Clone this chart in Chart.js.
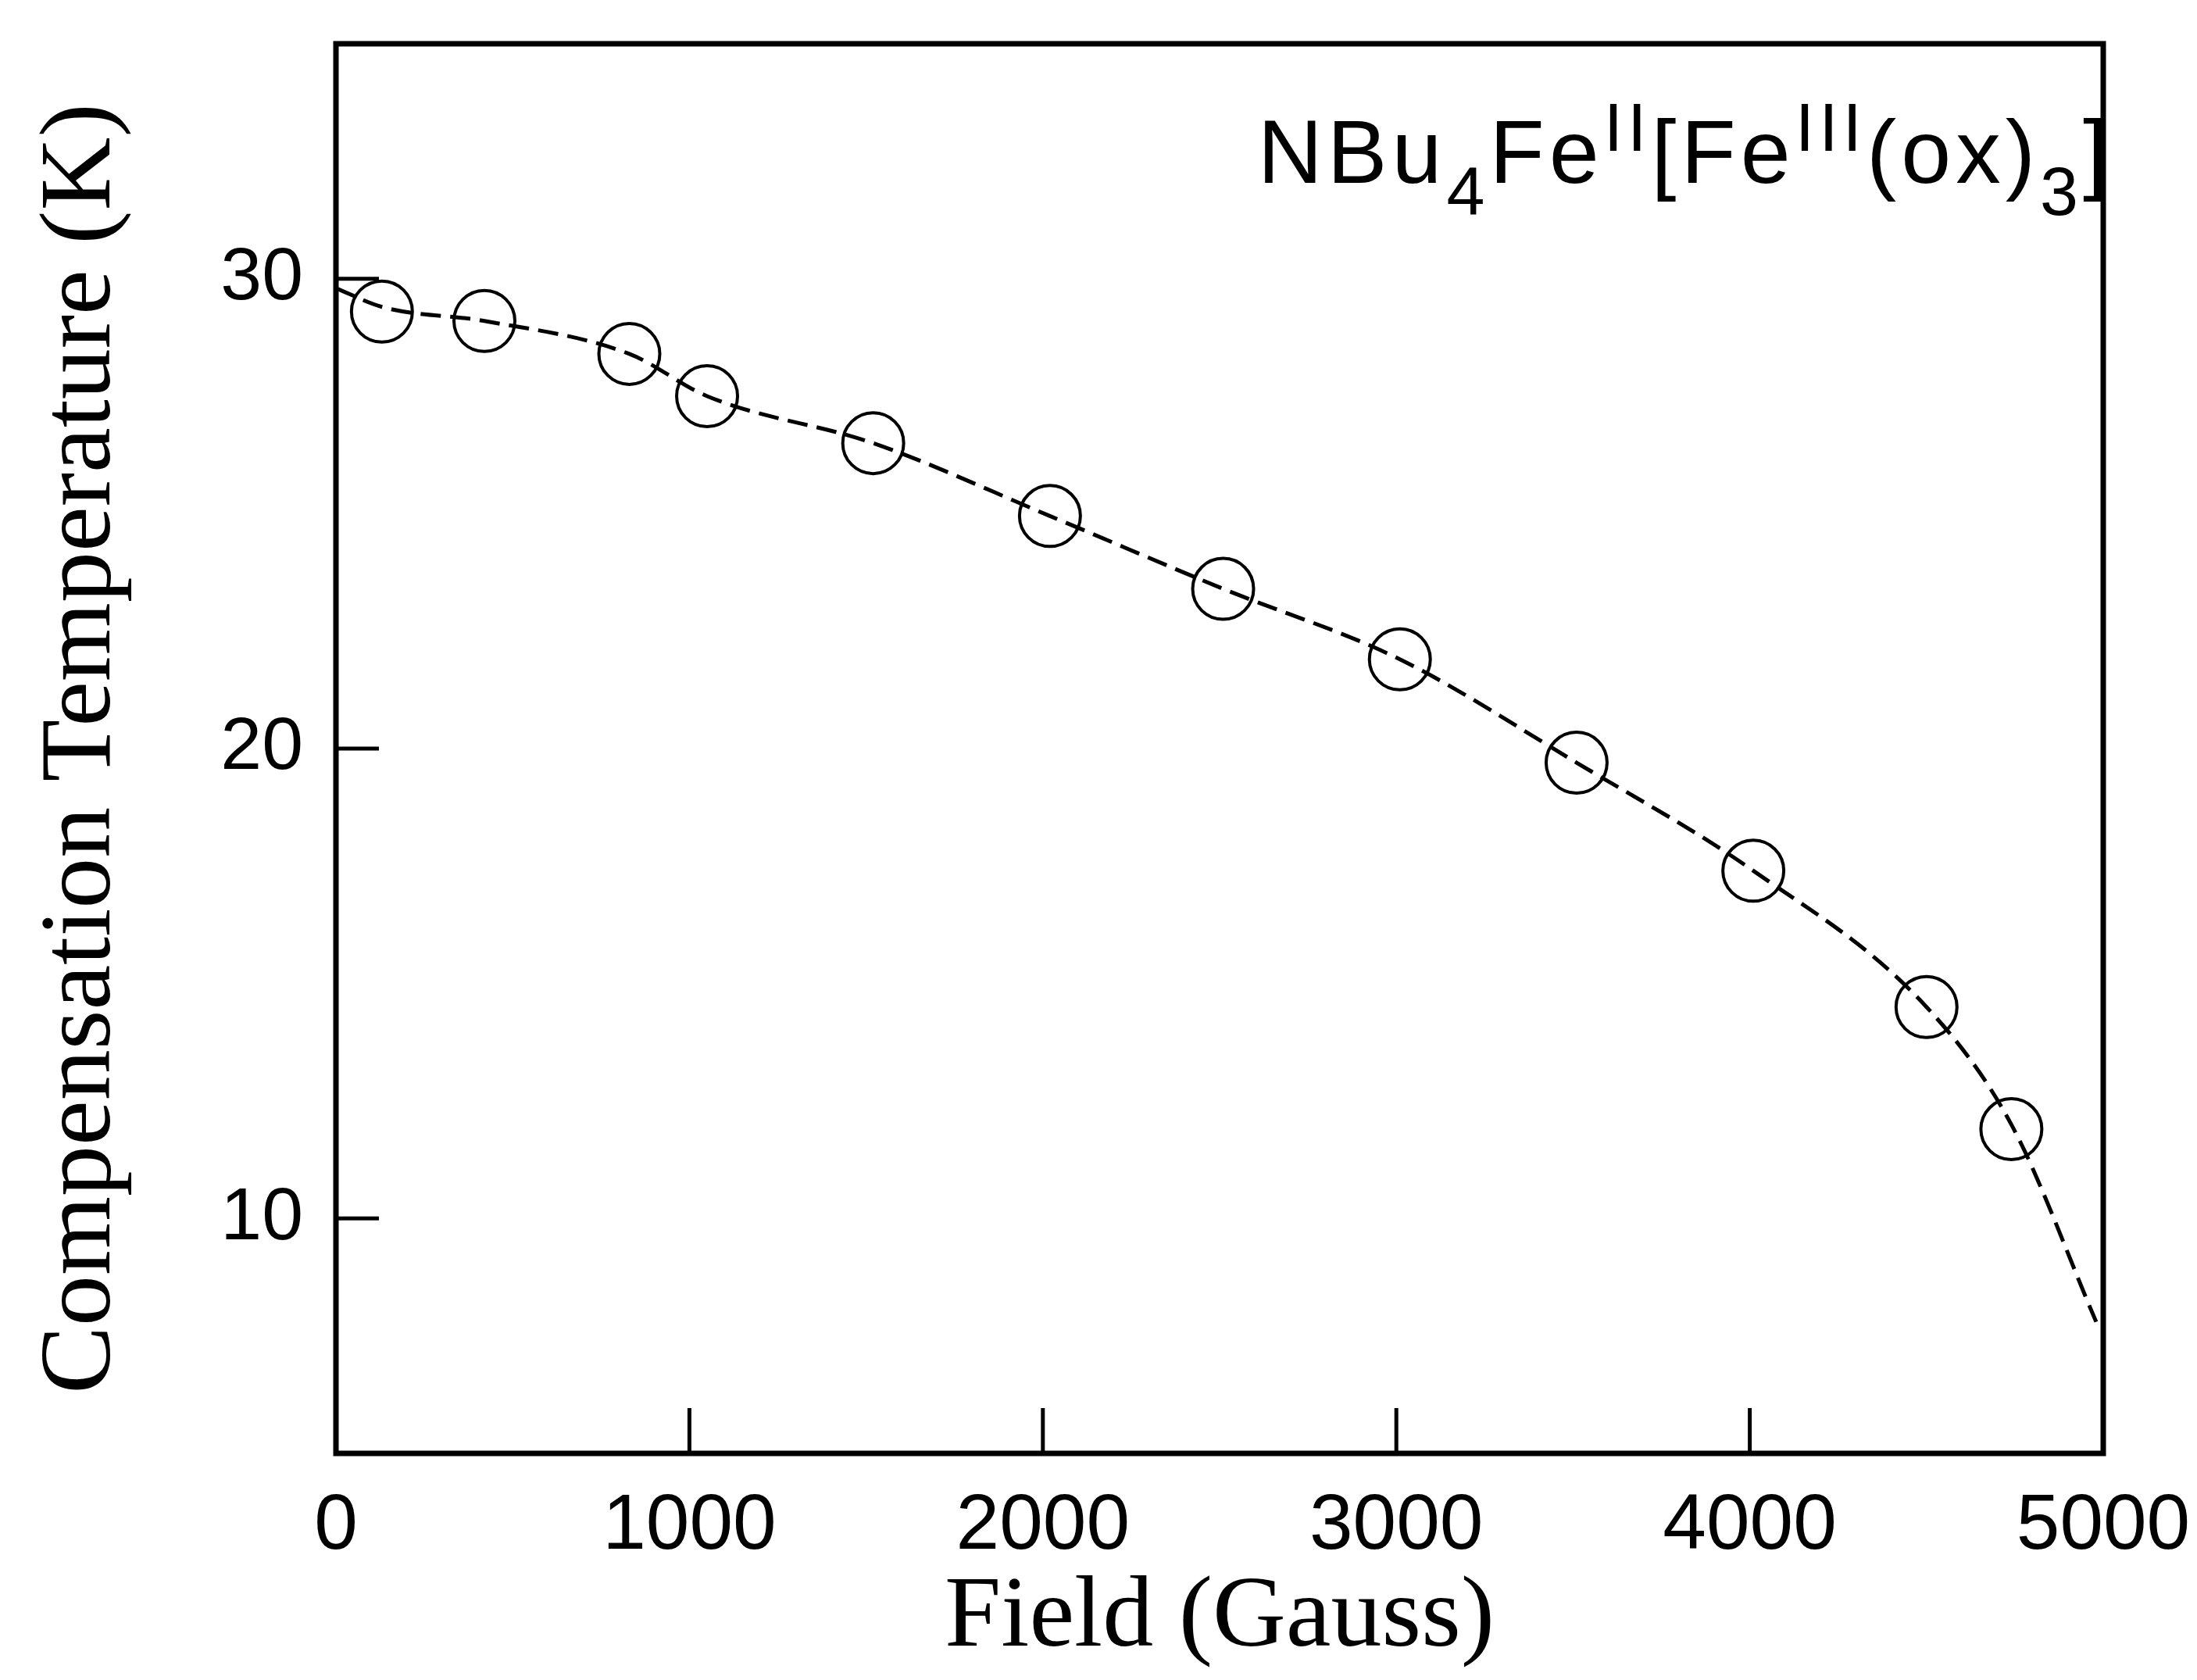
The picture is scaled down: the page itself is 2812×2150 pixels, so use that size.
<!DOCTYPE html>
<html>
<head>
<meta charset="utf-8">
<script src="https://cdn.jsdelivr.net/npm/chart.js@4.4.1/dist/chart.umd.min.js"></script>
<style>
  html, body { margin: 0; padding: 0; background: #fff; }
  #wrap { width: 2812px; height: 2150px; }
</style>
</head>
<body>
<div id="wrap"><canvas id="compChart" width="2812" height="2150"></canvas></div>
<script>
// open circles
const fieldGauss = [130, 420, 830, 1050, 1520, 2020, 2510, 3010, 3510, 4010, 4500, 4740];
const compTempK  = [29.3, 29.1, 28.4, 27.5, 26.5, 24.95, 23.4, 21.9, 19.7, 17.4, 14.5, 11.9];

// dashed guide line, runs from the left frame down to the right frame
const lineField = [0, 130, 420, 830, 1050, 1520, 2020, 2510, 3010, 3510, 4010, 4500, 4740, 4980];
const lineTemp  = [29.8, 29.4, 29.1, 28.4, 27.5, 26.5, 24.95, 23.4, 21.9, 19.7, 17.4, 14.5, 12.0, 7.8];

const xTicks = [0, 1000, 2000, 3000, 4000, 5000];
const yTicks = [10, 20, 30];

const xTitle = 'Field (Gauss)';
const yTitle = 'Compensation Temperature (K)';

// NBu4FeII[FeIII(ox)3]
const formulaParts = [
  ['NBu', 'main'], ['4', 'sub'], ['Fe', 'main'], ['II', 'sup'], ['[Fe', 'main'],
  ['III', 'sup'], ['(ox)', 'main'], ['3', 'sub'], [']', 'main']
];

const toXY = (xs, ys) => xs.map((v, i) => ({ x: v, y: ys[i] }));

// keep the plot box where the layout padding puts it
const noEdgePadding = s => {
  s.paddingLeft = 0; s.paddingRight = 0; s.paddingTop = 0; s.paddingBottom = 0;
};

const frameAndLabel = {
  id: 'frameAndLabel',
  afterDraw(chart) {
    const { ctx, chartArea: a, scales: { x, y } } = chart;
    ctx.save();
    ctx.strokeStyle = '#000';
    ctx.lineWidth = 7;
    ctx.strokeRect(a.left, a.top, a.right - a.left, a.bottom - a.top);

    // inward tick marks
    ctx.lineWidth = 5;
    ctx.beginPath();
    xTicks.slice(1, -1).forEach(v => {
      const px = x.getPixelForValue(v);
      ctx.moveTo(px, a.bottom);
      ctx.lineTo(px, a.bottom - 58);
    });
    yTicks.forEach(v => {
      const py = y.getPixelForValue(v);
      ctx.moveTo(a.left, py);
      ctx.lineTo(a.left + 55, py);
    });
    ctx.stroke();

    // formula in the top right corner
    const fonts = {
      main: '115px "Liberation Sans", Arial, sans-serif',
      sub: '88px "Liberation Sans", Arial, sans-serif',
      sup: '88px "Liberation Sans", Arial, sans-serif'
    };
    const shift = { main: 0, sub: 41, sup: -41 };
    ctx.fillStyle = '#000';
    ctx.textBaseline = 'alphabetic';
    ctx.textAlign = 'left';
    ctx.letterSpacing = '6px';
    let total = 0;
    formulaParts.forEach(([t, k]) => { ctx.font = fonts[k]; total += ctx.measureText(t).width; });
    let cx = a.right + 12 - total;
    const base = a.top + 178;
    formulaParts.forEach(([t, k]) => {
      ctx.font = fonts[k];
      ctx.fillText(t, cx, base + shift[k]);
      cx += ctx.measureText(t).width;
    });
    ctx.restore();
  }
};

const ctx_comp = document.getElementById('compChart').getContext('2d');

const compChart = new Chart(ctx_comp, {
  type: 'scatter',
  data: {
    datasets: [
      {
        label: 'guide',
        type: 'line',
        data: toXY(lineField, lineTemp),
        borderColor: '#000',
        borderWidth: 5,
        borderDash: [26, 12],
        pointRadius: 0,
        fill: false,
        cubicInterpolationMode: 'monotone'
      },
      {
        label: 'T comp',
        data: toXY(fieldGauss, compTempK),
        pointStyle: 'circle',
        pointRadius: 39,
        pointBorderWidth: 4,
        pointBorderColor: '#000',
        pointBackgroundColor: 'rgba(0,0,0,0)',
        showLine: false
      }
    ]
  },
  options: {
    responsive: false,
    animation: false,
    layout: { padding: { left: 0, top: 56, right: 120, bottom: 0 } },
    plugins: {
      legend: { display: false },
      tooltip: { enabled: false }
    },
    scales: {
      x: {
        type: 'linear',
        min: 0,
        max: 5000,
        afterBuildTicks: s => { s.ticks = xTicks.map(v => ({ value: v })); },
        afterFit: s => { s.height = 290; noEdgePadding(s); },
        grid: { display: false, drawTicks: false },
        border: { display: false },
        ticks: {
          color: '#000',
          padding: 44,
          maxRotation: 0,
          callback: v => String(v),
          font: { family: '"Liberation Sans", Arial, sans-serif', size: 100, lineHeight: 1 }
        },
        title: {
          display: true,
          text: xTitle,
          color: '#000',
          padding: 0,
          font: { family: '"Liberation Serif", "Times New Roman", serif', size: 130 }
        }
      },
      y: {
        type: 'linear',
        min: 5,
        max: 35,
        afterBuildTicks: s => { s.ticks = yTicks.map(v => ({ value: v })); },
        afterFit: s => { s.width = 430; noEdgePadding(s); },
        grid: { display: false, drawTicks: false },
        border: { display: false },
        ticks: {
          color: '#000',
          padding: 42,
          callback: v => String(v),
          font: { family: '"Liberation Sans", Arial, sans-serif', size: 95, lineHeight: 1 }
        },
        title: {
          display: true,
          text: yTitle,
          color: '#000',
          padding: { top: 28, bottom: 0 },
          font: { family: '"Liberation Serif", "Times New Roman", serif', size: 130 }
        }
      }
    }
  },
  plugins: [frameAndLabel]
});
</script>
</body>
</html>
